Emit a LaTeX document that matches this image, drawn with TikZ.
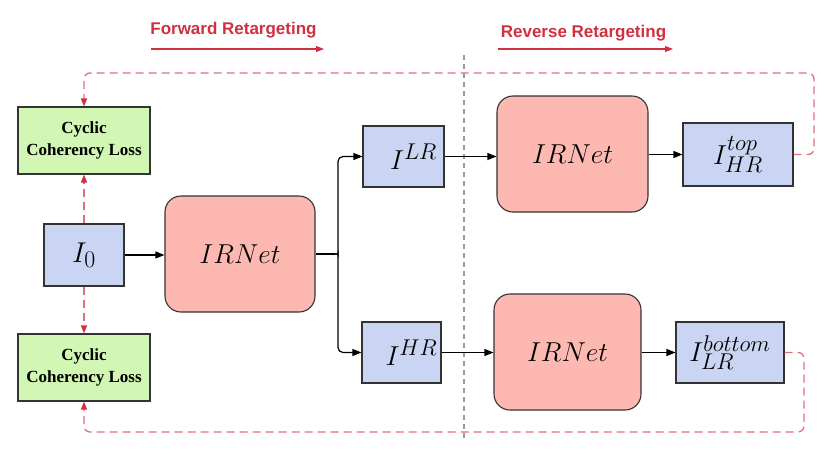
\documentclass[tikz,border=0pt]{standalone}
\usepackage{fontspec}
\newfontfamily\labelfont{Liberation Sans}
\newfontfamily\lossfont{Liberation Serif}
\usetikzlibrary{arrows.meta}
\newcommand{\mathbigtxt}[2]{\scalebox{#1}{\Huge$#2$}}
\definecolor{boxblue}{HTML}{C9D5F2}
\definecolor{boxpink}{HTML}{FDB9B1}
\definecolor{boxgreen}{HTML}{D2F6B3}
\definecolor{txtred}{HTML}{D0303F}
\definecolor{dashred}{HTML}{E06E7C}
\definecolor{edgegray}{HTML}{333333}
\tikzset{
  imgbox/.style={draw=edgegray, line width=1.1pt, fill=boxblue, inner sep=0pt},
  netbox/.style={draw=edgegray, line width=1.1pt, fill=boxpink, rounded corners=16pt, minimum width=150pt, minimum height=116pt, inner sep=0pt},
  lossbox/.style={draw=edgegray, line width=1.1pt, fill=boxgreen, minimum width=132pt, minimum height=67pt, inner sep=0pt, align=center, font=\lossfont\bfseries\fontsize{17}{22}\selectfont},
  flow/.style={line width=1.2pt, -{Triangle[length=9pt,width=7pt]}},
  cyc/.style={draw=dashred, line width=1.3pt, dash pattern=on 8pt off 5pt, rounded corners=6pt, -{Triangle[length=8pt,width=6pt,color=txtred]}},
  dirlabel/.style={text=txtred, font=\labelfont\bfseries\fontsize{17}{20}\selectfont, inner sep=0pt},
  dirarrow/.style={draw=txtred, line width=1.1pt, -{Triangle[length=8pt,width=6pt]}},
}
\begin{document}
\begin{tikzpicture}[x=1pt,y=-1pt]
\useasboundingbox (0,0) rectangle (833,456);

% direction labels
\node[dirlabel] (fwd) at (233.5,30) {Forward Retargeting};
\coordinate (fwdA) at (151,49);
\coordinate (fwdB) at (324,49);
\draw[dirarrow] (fwdA) -- (fwdB);
\node[dirlabel] (rev) at (583.5,33) {Reverse Retargeting};
\coordinate (revA) at (498,49);
\coordinate (revB) at (673,49);
\draw[dirarrow] (revA) -- (revB);

% separator
\coordinate (sepA) at (464,55);
\coordinate (sepB) at (464,438);
\draw[gray!80, line width=1.1pt, dash pattern=on 5pt off 4pt] (sepA) -- (sepB);

% nodes
\node[lossbox] (loss1) at (84,140.5) {Cyclic\\Coherency Loss};
\node[lossbox] (loss2) at (84,367.5) {Cyclic\\Coherency Loss};
\node[imgbox, minimum width=80pt, minimum height=62pt] (i0) at (84,255) {\mathbigtxt{1.15}{I_0}};
\node[netbox] (net1) at (240,254) {\mathbigtxt{1.1}{IRNet}};
\node[imgbox, minimum width=81pt, minimum height=61pt] (ilr) at (403.5,156.5) {\hspace{20pt}\mathbigtxt{1.1}{I^{LR}}};
\node[imgbox, minimum width=79pt, minimum height=61pt] (ihr) at (401.5,352.5) {\hspace{20pt}\mathbigtxt{1.1}{I^{HR}}};
\node[netbox, minimum width=151pt] (net2) at (572.5,154) {\mathbigtxt{1.1}{IRNet}};
\node[netbox, minimum width=147pt] (net3) at (567.5,352) {\mathbigtxt{1.1}{IRNet}};
\node[imgbox, minimum width=110pt, minimum height=63pt] (itop) at (738,154.5) {\mathbigtxt{1.1}{I_{HR}^{top}}};
\node[imgbox, minimum width=108pt, minimum height=61pt] (ibot) at (730,352.5) {\mathbigtxt{1.1}{I_{LR}^{bottom}}};

% flow connectors
\draw[flow] (i0.east) -- (net1.west |- i0.east);
\coordinate (split) at (335,254);
\draw[line width=1.2pt] (net1.east |- split) -- (split);
\draw[flow, rounded corners=5pt] (split) .. controls (338,254) .. (338,250) |- (ilr.west);
\draw[flow, rounded corners=5pt] (split) .. controls (338,254) .. (338,258) |- (ihr.west);
\draw[flow] (ilr.east) -- (net2.west |- ilr.east);
\draw[flow] (ihr.east) -- (net3.west |- ihr.east);
\draw[flow] (net2.east |- itop.west) -- (itop.west);
\draw[flow] (net3.east |- ibot.west) -- (ibot.west);

% cyclic dashed connectors
\draw[cyc] (i0.north) -- (loss1.south);
\draw[cyc] (i0.south) -- (loss2.north);
\coordinate (topR) at (814,73);
\coordinate (botR) at (804,432);
\draw[cyc] (itop.east) -| (topR) -| (loss1.north);
\draw[cyc] (ibot.east) -| (botR) -| (loss2.south);
\end{tikzpicture}
\end{document}
